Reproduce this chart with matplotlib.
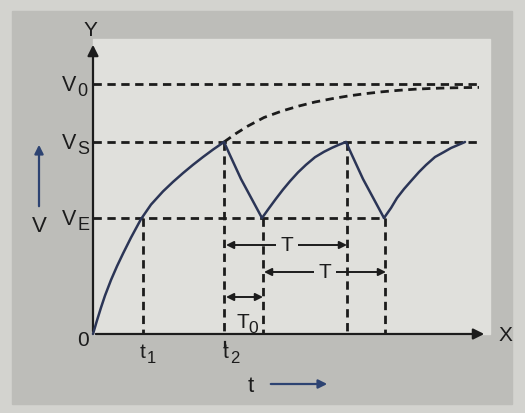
import matplotlib.pyplot as plt
from matplotlib.patches import Rectangle

plt.rcParams['font.family'] = ['Liberation Sans', 'DejaVu Sans']

# voltage levels: supply V0, striking VS, extinction VE
V0 = 25.0
VS = 19.2
VE = 11.6

# first charge of the capacitor, 0 -> VS
rise_t = [0.0, 0.4, 0.8, 1.2, 1.8, 2.4, 3.0, 3.8, 4.8, 5.8, 7.0, 8.0, 9.0, 10.0, 11.0, 12.0, 13.1]
rise_v = [0.0, 1.36, 2.64, 3.84, 5.4, 6.78, 8.04, 9.64, 11.49, 12.94, 14.26, 15.21, 16.09,
          16.92, 17.7, 18.44, 19.2]

# charging curve carried on towards V0 (lamp not firing)
free_t = [13.1, 14.3, 15.5, 17.1, 18.9, 20.6, 22.2, 23.9, 25.5, 27.2, 28.9, 30.6, 32.2,
          33.9, 35.5, 37.1, 38.6]
free_v = [19.2, 20.05, 20.8, 21.65, 22.3, 22.8, 23.2, 23.53, 23.8, 24.03, 24.22, 24.37,
          24.48, 24.56, 24.61, 24.64, 24.66]

# discharge VS -> VE and recharge VE -> VS
fall1_t = [13.1, 13.6, 14.2, 14.8, 15.5, 16.2, 16.9]
fall1_v = [19.2, 18.1, 16.8, 15.5, 14.2, 12.9, 11.6]
rise1_t = [16.9, 17.6, 18.3, 19.0, 19.7, 20.5, 21.3, 22.2, 23.1, 23.9, 24.6, 25.3]
rise1_v = [11.6, 12.58, 13.53, 14.44, 15.28, 16.16, 16.92, 17.68, 18.22, 18.62, 18.93, 19.2]
fall2_t = [25.3, 25.8, 26.4, 27.0, 27.7, 28.4, 29.1]
fall2_v = [19.2, 18.1, 16.8, 15.5, 14.2, 12.9, 11.6]
rise2_t = [29.1, 29.8, 30.4, 31.1, 31.8, 32.6, 33.3, 34.2, 35.1, 35.8, 36.5, 37.2]
rise2_v = [11.6, 12.6, 13.6, 14.5, 15.3, 16.2, 16.9, 17.7, 18.2, 18.6, 18.9, 19.2]

# time marks
t1 = 5.0
t2 = 13.1
drop_x = [t1, t2, 17.0, 25.4, 29.2]
drop_top = [VE, VS, VE, VS, VE]

# period arrows: start, end, height
T_start = [13.3, 17.1]
T_end = [25.4, 29.3]
T_y = [8.9, 6.2]
T0_span = (13.3, 17.0)
T0_y = 3.7

ink = '#1c1c1c'
curve_col = '#2b3556'
blue = '#2d4372'
panel = '#e0e0dc'
dash = (0, (3.0, 2.0))

fig = plt.figure(figsize=(5.25, 4.14), dpi=100)
fig.patch.set_facecolor('#d3d3cf')
ax = fig.add_axes([0, 0, 1, 1])
ax.set_xlim(-9.3, 43.2)
ax.set_ylim(-7.9, 33.5)
ax.axis('off')


def sublabel(x, y, main, sub, size, subsize, gap):
    # letter with a large, low subscript, x = left edge of the letter
    ax.text(x, y, main, fontsize=size, ha='left', va='baseline', color=ink)
    ax.text(x + gap, y - 0.5, sub, fontsize=subsize, ha='left', va='baseline', color=ink)


# grey card and the lighter plot area
ax.add_patch(Rectangle((-8.1, -7.0), 50.0, 39.3, color='#bdbdb9', zorder=0))
ax.add_patch(Rectangle((0, 0), 39.7, 29.5, color=panel, zorder=0))

# axes with arrows
ax.annotate('', xy=(0, 29.2), xytext=(0, 0),
            arrowprops=dict(arrowstyle='-|>', lw=1.6, color=ink, mutation_scale=16))
ax.annotate('', xy=(39.4, 0), xytext=(0, 0),
            arrowprops=dict(arrowstyle='-|>', lw=1.6, color=ink, mutation_scale=16))
ax.text(-0.3, 30.45, 'Y', fontsize=15, ha='center', va='center', color=ink)
ax.text(41.2, -0.05, 'X', fontsize=15, ha='center', va='center', color=ink)
ax.text(-1.05, -0.6, '0', fontsize=15, ha='center', va='center', color=ink)

# level lines
ax.plot([0, 38.6], [V0, V0], ls=dash, lw=2.0, color=ink)
ax.plot([0, 38.8], [VS, VS], ls=dash, lw=2.0, color=ink)
ax.plot([0, 29.2], [VE, VE], ls=dash, lw=2.0, color=ink)
ax.plot(free_t, free_v, ls=dash, lw=2.0, color=ink)
for x, top in zip(drop_x, drop_top):
    ax.plot([x, x], [top, 0], ls=dash, lw=2.0, color=ink)
# small stub of the t2 line below the axis
ax.plot([t2 + 0.1, t2 + 0.1], [-0.8, -1.3], lw=1.6, color=ink)

# voltage across the capacitor
for tt, vv in [(rise_t, rise_v), (fall1_t, fall1_v), (rise1_t, rise1_v),
               (fall2_t, fall2_v), (rise2_t, rise2_v)]:
    ax.plot(tt, vv, lw=1.8, color=curve_col, solid_capstyle='round',
            solid_joinstyle='round', zorder=3)

# level labels
for sub, lev in [('0', V0), ('S', VS), ('E', VE)]:
    sublabel(-3.1, lev - 0.6, 'V', sub, 15.5, 13, 1.5)

# time labels
sublabel(t1 - 0.3, -2.3, 't', '1', 15, 12, 0.7)
sublabel(t2 - 0.1, -2.3, 't', '2', 15, 12, 0.7)

# period arrows
arrow = dict(arrowstyle='<|-|>', lw=1.4, color=ink, mutation_scale=11, shrinkA=0, shrinkB=0)
for xs, xe, y, xl in zip(T_start, T_end, T_y, [19.4, 23.2]):
    ax.annotate('', xy=(xe, y), xytext=(xs, y), arrowprops=arrow)
    ax.text(xl, y, 'T', fontsize=15, ha='center', va='center', color=ink,
            bbox=dict(boxstyle='square,pad=0.2', fc=panel, ec='none'))
ax.annotate('', xy=(T0_span[1], T0_y), xytext=(T0_span[0], T0_y), arrowprops=arrow)
sublabel(14.3, 0.7, 'T', '0', 15, 12.5, 1.2)

# axis quantity arrows
ax.annotate('', xy=(-5.4, 19.2), xytext=(-5.4, 12.5),
            arrowprops=dict(arrowstyle='-|>', lw=1.6, color=blue, mutation_scale=13))
ax.text(-5.4, 10.85, 'V', fontsize=16, ha='center', va='center', color=ink)
ax.annotate('', xy=(23.7, -5.0), xytext=(17.5, -5.0),
            arrowprops=dict(arrowstyle='-|>', lw=1.6, color=blue, mutation_scale=13))
ax.text(15.75, -5.15, 't', fontsize=16, ha='center', va='center', color=ink)

fig.savefig('out.png', dpi=100, facecolor=fig.get_facecolor())
